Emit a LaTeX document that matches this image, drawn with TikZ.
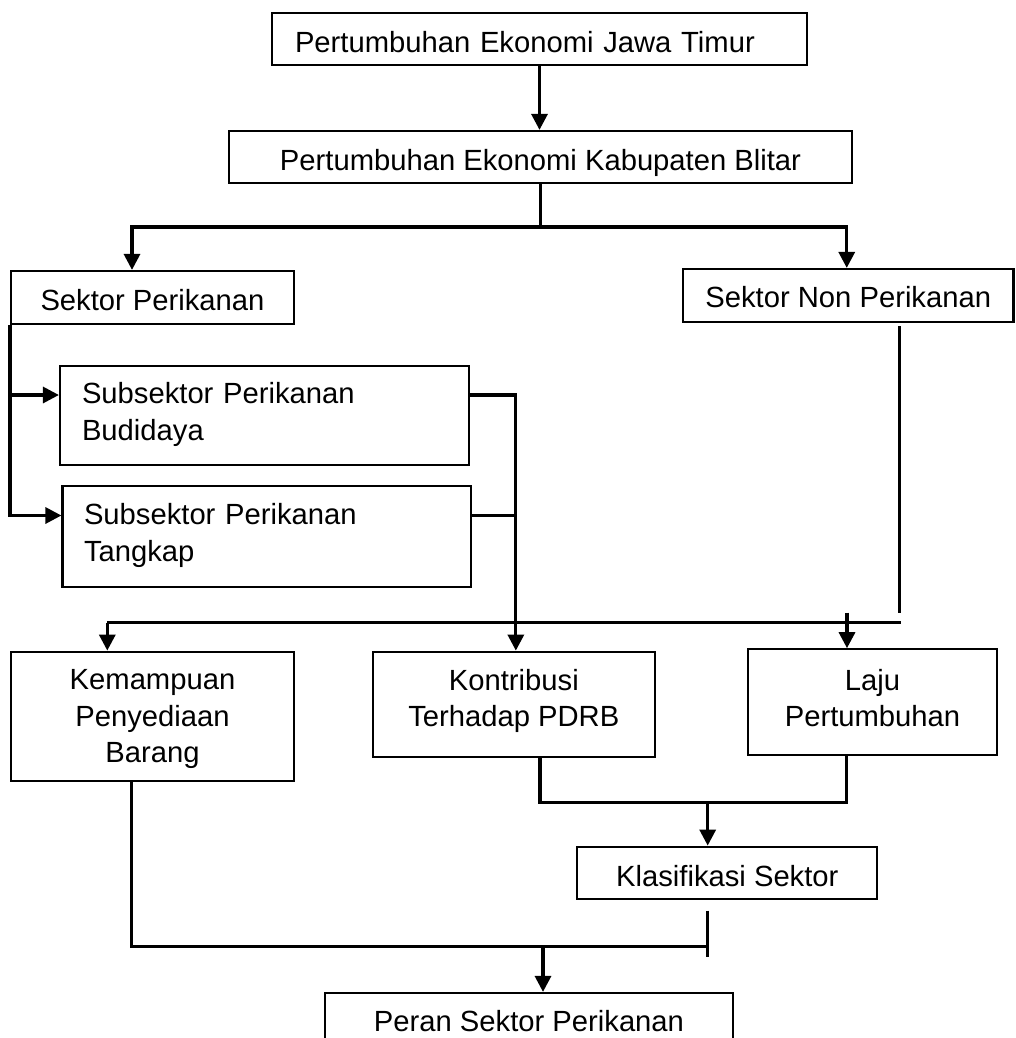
\documentclass[tikz,border=0pt]{standalone}
\usepackage{fontspec}
\setmainfont{Liberation Sans}
\usetikzlibrary{arrows.meta}
\newcommand\mystrut{\rule[-12pt]{0pt}{36.5pt}}
\begin{document}
\begin{tikzpicture}[x=1pt,y=-1pt,
  font=\fontsize{29.2pt}{36.5pt}\selectfont,
  box/.style={draw, line width=2.2pt, inner sep=0pt, rectangle},
  one/.style={text depth=0pt, text height=#1},
  conn/.style={line width=3.2pt},
  arr/.style={conn, -{Triangle[width=16pt,length=16pt]}},
]
\useasboundingbox (0,0) rectangle (1015,1038);
\clip (0,0) rectangle (1015,1038);
\fill[white] (0,0) rectangle (1015,1038);

% boxes
\node[box, one=26.6pt, minimum height=52pt, text width=489pt, align=left, inner xsep=23pt] (b1) at (539.5,39) {Pertumbuhan Ekonomi Jawa Timur};
\node[box, one=26pt, minimum width=623pt, minimum height=52pt] (b2) at (540.5,157) {Pertumbuhan Ekonomi Kabupaten Blitar};
\node[box, one=25pt, minimum width=283pt, minimum height=53pt] (sp) at (152.5,297.5) {Sektor Perikanan};
\node[box, one=23.6pt, minimum width=330.5pt, minimum height=53pt] (snp) at (848.25,295.5) {Sektor Non Perikanan};
\node[box, minimum height=99pt, text width=365pt, align=left, inner xsep=22pt] (sb) at (264.5,415.5) {\mystrut Subsektor Perikanan\\\mystrut Budidaya};
\node[box, minimum height=101pt, text width=365.5pt, align=left, inner xsep=21.5pt] (st) at (266.75,536.5) {\mystrut Subsektor Perikanan\\\mystrut Tangkap};
\node[box, minimum width=283pt, minimum height=129pt, align=center] (kem) at (152.5,716.2) {\rule[-12pt]{0pt}{44.5pt}Kemampuan\\\mystrut Penyediaan\\\mystrut Barang};
\node[box, minimum width=282.3pt, minimum height=105pt, align=center] (kon) at (513.85,704.2) {\mystrut Kontribusi\\\rule[-16pt]{0pt}{40.5pt}Terhadap PDRB};
\node[box, minimum width=248.4pt, minimum height=105.7pt, align=center] (laju) at (872.5,702.15) {\mystrut Laju\\\mystrut Pertumbuhan};
\node[box, one=27.4pt, minimum width=300pt, minimum height=52.6pt] (kls) at (727.3,873) {Klasifikasi Sektor};
\node[box, one=26pt, minimum width=408pt, minimum height=50pt] (peran) at (529,1018) {Peran Sektor Perikanan};

% top part
\draw[arr] (b1.south) -- (b1.south |- b2.north);
\coordinate (j1) at (540.5,227);
\draw[conn] (b2.south) -- (j1);
\coordinate (spin) at ([xshift=-20.5pt]sp.north);
\coordinate (snpin) at ([xshift=-1.5pt]snp.north);
\draw[arr] (j1) -| (spin);
\draw[arr] (j1) -| (snpin);

% left branch to subsectors
\coordinate (sbin) at ([yshift=20.5pt]sb.west);
\coordinate (stin) at ([yshift=21pt]st.west);
\draw[arr] (sp.south west) |- (stin);
\draw[arr] (sp.south west |- sbin) -- (sbin);

% subsectors to Kontribusi
\coordinate (konin) at ([xshift=2pt]kon.north);
\coordinate (sbout) at ([yshift=20.5pt]sb.east);
\coordinate (stout) at ([yshift=21pt]st.east);
\draw[arr] (sbout) -| (konin);
\draw[conn] (stout) -- (stout -| konin);

% non perikanan line
\coordinate (snpout) at ([xshift=51pt,yshift=-3pt]snp.south);
\coordinate (snpend) at (899.25,612.5);
\draw[conn] (snpout) -- (snpend);

% horizontal distribution line
\coordinate (kemin) at ([xshift=-45.2pt]kem.north);
\coordinate (hl) at (107.3,622.5);
\coordinate (hr) at (900.5,622.5);
\draw[conn] (hl) -- (hr);
\draw[arr] (hl) -- (kemin);
\coordinate (lajuin) at ([xshift=-25.5pt]laju.north);
\draw[arr] (lajuin |- snpend) -- (lajuin);

% Kontribusi + Laju to Klasifikasi
\coordinate (j2) at (540,802.7);
\coordinate (konout) at ([xshift=26.15pt]kon.south);
\coordinate (lajuout) at ([xshift=-25.8pt]laju.south);
\draw[conn] (konout) |- (lajuout |- j2) -- (lajuout);
\coordinate (klsin) at ([xshift=-19.6pt]kls.north);
\draw[arr] (klsin |- j2) -- (klsin);

% bottom
\coordinate (tt) at (707.7,910.7);
\coordinate (tb) at (707.7,956.7);
\draw[conn] (tt) -- (tb);
\coordinate (kemout) at ([xshift=-20.8pt]kem.south);
\coordinate (j3) at (707.7,946.7);
\draw[conn] (kemout) |- (j3);
\coordinate (peranin) at ([xshift=14pt]peran.north);
\draw[arr] (peranin |- j3) -- (peranin);
\end{tikzpicture}
\end{document}
